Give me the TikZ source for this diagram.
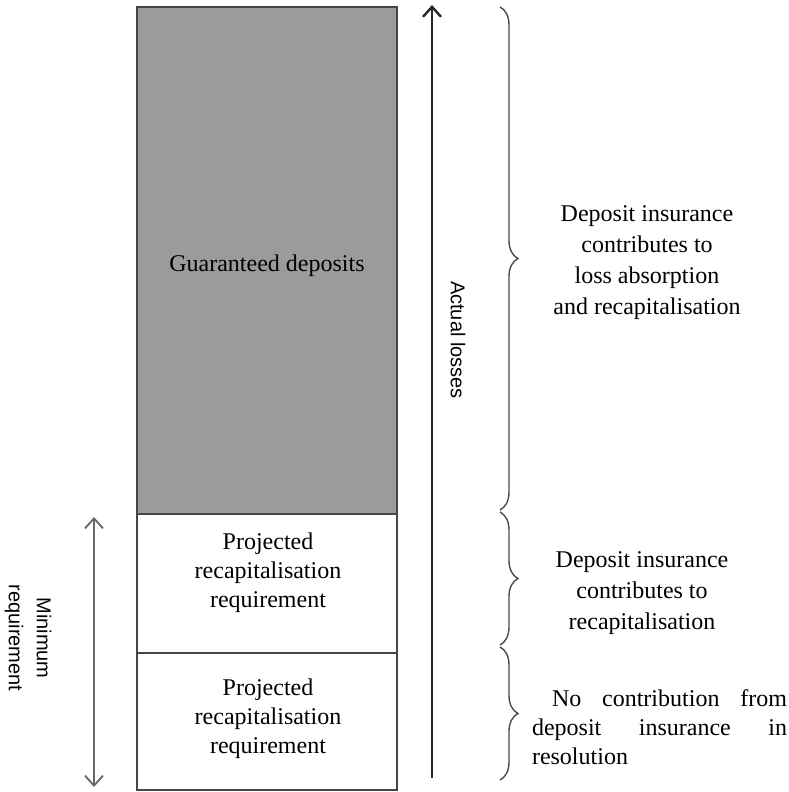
\documentclass[tikz,border=0pt]{standalone}
\usepackage{fontspec}
\setmainfont{Liberation Serif}
\setsansfont{Liberation Sans}
\usepackage{tikz}
\usetikzlibrary{positioning}
\usetikzlibrary{arrows.meta}
\usetikzlibrary{decorations.pathreplacing}
\definecolor{guargray}{RGB}{155,155,155}
\definecolor{framegray}{RGB}{70,70,70}
\tikzset{>={Straight Barb[length=5pt,width=9pt]}}

\begin{document}
\begin{tikzpicture}[x=0.5pt,y=-0.5pt]
                        % bx = box of the column, br = brace on the right
                        \tikzstyle{bx}=[draw=framegray, line width=1pt, minimum width=130pt, inner sep=0pt, outer sep=0pt]
                        \tikzstyle{txt}=[align=center, font=\fontsize{12}{14.5}\selectfont]
                        \tikzstyle{br}=[draw=black!70, line width=0.7pt, decorate, decoration={brace, amplitude=9pt}]
                        \tikzstyle{side}=[rotate=-90, align=center, font=\sffamily\fontsize{10}{14}\selectfont]
                        \useasboundingbox (0,0) rectangle (788,792);

                        \node[bx, fill=guargray, minimum height=253.5pt, anchor=north west] (G) at (137,7) {};
                        \node[bx, minimum height=69.5pt, below=0pt of G] (P) {};
                        \node[bx, minimum height=68.5pt, below=0pt of P] (Q) {};

                        \node[txt] (g) at (267,266) {Guaranteed deposits};
                        \node[txt] (p) at (268,573) {Projected\\recapitalisation\\requirement};
                        \node[txt] (q) at (268,719) {Projected\\recapitalisation\\requirement};

                        \coordinate (L0) at (432,778);
                        \coordinate (L1) at (432,5);
                        \draw[->, line width=1.2pt, black!85] (L0) -- (L1);
                        \node[side] (al) at (458,340) {Actual losses};

                        \coordinate (M0) at (94,517);
                        \coordinate (M1) at (94,787);
                        \draw[<->, line width=0.9pt, black!60] (M0) -- (M1);
                        \node[side] (mr) at (28,638) {Minimum\\requirement};

                        \coordinate (A0) at (500,7);
                        \coordinate (A1) at (500,510);
                        \coordinate (B0) at (500,512);
                        \coordinate (B1) at (500,645);
                        \coordinate (C0) at (500,647);
                        \coordinate (C1) at (500,780);
                        \draw[br] (A0) -- (A1);
                        \draw[br] (B0) -- (B1);
                        \draw[br] (C0) -- (C1);

                        \node[txt, font=\fontsize{12}{15.5}\selectfont] (d1) at (647,263)
                                {Deposit insurance\\contributes to\\loss absorption\\and recapitalisation};
                        \node[txt, font=\fontsize{12}{15.5}\selectfont] (d2) at (642,593)
                                {Deposit insurance\\contributes to\\recapitalisation};
                        \node[txt, align=left, text width=127.5pt, inner sep=0pt] (d3) at (659.5,727)
                                {\hspace*{10pt}No\hfill contribution\hfill from\\deposit\hfill insurance\hfill in\\resolution};
\end{tikzpicture}
\end{document}
